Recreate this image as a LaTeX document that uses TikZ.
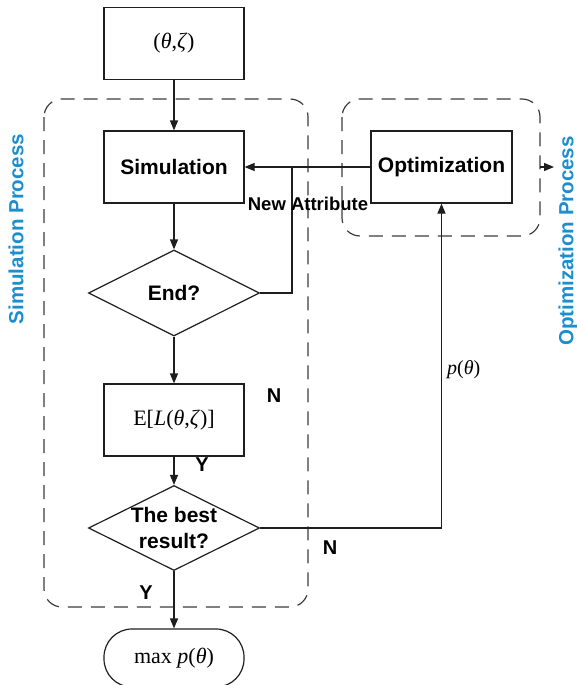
\documentclass[tikz,border=0pt]{standalone}
\usepackage{fontspec}
\setmainfont{Liberation Sans}
\newfontfamily\serifmath{Liberation Serif}
\usetikzlibrary{arrows.meta,shapes.geometric}
\definecolor{procblue}{RGB}{28,142,206}
\definecolor{ink}{RGB}{30,30,30}
\definecolor{dashgray}{RGB}{60,60,60}
\newcommand{\lblfont}{\bfseries\fontsize{20}{26}\selectfont}
\newcommand{\boxfont}{\bfseries\fontsize{21}{26}\selectfont}
\newcommand{\mathfont}{\serifmath\fontsize{22}{26}\selectfont}
\tikzset{
  flow/.style={draw=ink, line width=1.2pt},
  stepbox/.style={flow, rectangle, minimum width=140pt, minimum height=72pt, inner sep=0pt},
  decision/.style={flow, diamond, aspect=2, inner sep=0pt, minimum width=171pt, minimum height=86pt, align=center},
  terminal/.style={flow, rectangle, rounded corners=28pt, minimum width=140pt, minimum height=58pt, inner sep=0pt},
  conn/.style={draw=ink, line width=1.2pt},
  arr/.style={conn, -{Triangle[length=10pt,width=8pt]}},
  groupbox/.style={draw=dashgray, line width=1.2pt, dash pattern=on 14pt off 9pt, rounded corners=18pt},
  yn/.style={font=\lblfont, inner sep=0pt},
  grouplabel/.style={font=\bfseries\fontsize{20.5}{24}\selectfont, text=procblue, rotate=90, inner sep=0pt}
}
\begin{document}
\begin{tikzpicture}[x=1pt, y=-1pt]
  \useasboundingbox (0,0) rectangle (577,685);

  % process groups
  \draw[groupbox] (44,99) rectangle (308,607);
  \draw[groupbox] (342,99) rectangle (540,236);

  % flowchart nodes
  \node[stepbox, font=\mathfont] (start) at (174,43.5) {(\textit{θ},\textit{ζ})};
  \node[stepbox, font=\boxfont] (sim) at (174,167) {Simulation};
  \node[stepbox, font=\boxfont, minimum width=141pt] (opt) at (441.5,167) {Optimization};
  \node[decision, font=\boxfont] (endq) at (174,293) {End?};
  \node[stepbox, font=\mathfont] (eval) at (174,420) {E[\textit{L}(\textit{θ},\textit{ζ})]};
  \node[decision, font=\boxfont, minimum height=85pt] (best) at (174,528) {The best\\result?};
  \node[terminal, font=\mathfont] (maxp) at (174,658) {max \textit{p}(\textit{θ})};

  \coordinate (fb) at (292,167);
  \coordinate (stubA) at (540,167);
  \coordinate (stubB) at (554,167);

  % connectors
  \draw[arr] (start) -- (sim);
  \draw[arr] (sim) -- (endq);
  \draw[arr] (endq) -- (eval);
  \draw[arr] (eval) -- (best);
  \draw[arr] (best) -- (maxp);
  \draw[arr] (opt) -- (sim);
  \draw[conn] (endq.east) -| (fb);
  \draw[arr] (best.east) -| (opt.south);
  \draw[arr] (stubA) -- (stubB);

  % labels
  \node[font=\bfseries\fontsize{18.5}{22}\selectfont, inner sep=0pt] (newattr) at (308,204) {New Attribute};
  \node[yn] (n1) at (274,396) {N};
  \node[yn] (y1) at (202,465) {Y};
  \node[yn] (n2) at (330,548) {N};
  \node[yn] (y2) at (146,593) {Y};
  \node[font=\serifmath\fontsize{20}{24}\selectfont, anchor=west, inner sep=0pt] (ptheta) at (447,370) {\textit{p}(\textit{θ})};
  \node[grouplabel] (simlbl) at (16,229) {Simulation Process};
  \node[grouplabel] (optlbl) at (568,241) {Optimization Process};
\end{tikzpicture}
\end{document}
